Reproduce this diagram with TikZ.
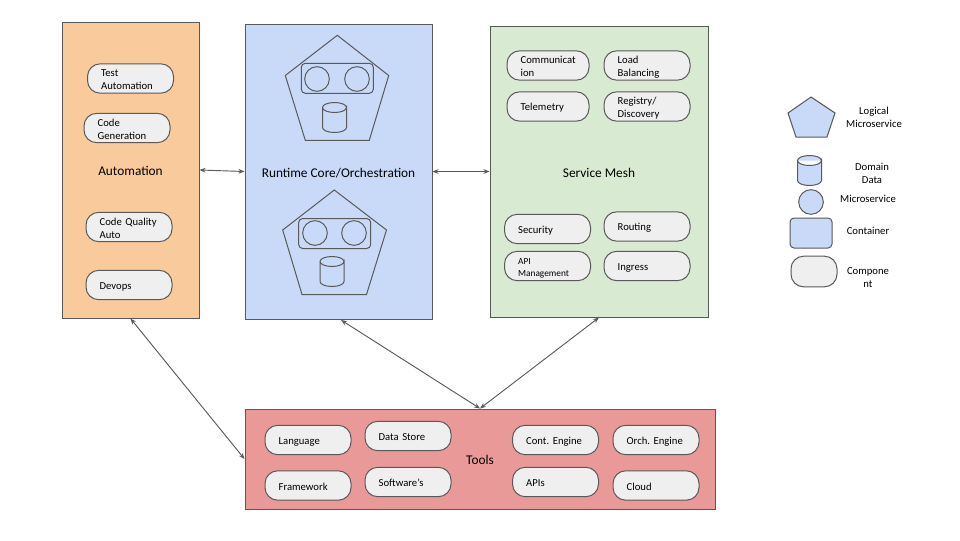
\documentclass[tikz,border=0pt]{standalone}
\usepackage{xcolor}
\usepackage{fontspec}
\setmainfont{Carlito}
\usepackage{tikz}
\usetikzlibrary{arrows.meta}
\definecolor{myline}{RGB}{89,89,89}
\definecolor{myorange}{RGB}{249,203,156}
\definecolor{myblue}{RGB}{201,218,248}
\definecolor{mygreen}{RGB}{217,234,211}
\definecolor{myred}{RGB}{234,153,153}
\definecolor{mypill}{RGB}{239,239,239}
\tikzset{
  sysbox/.style={rectangle, draw=myline, line width=0.75pt, align=center,
    font=\fontsize{10}{12}\selectfont, text=black, text height=11pt, text depth=2.5pt},
  pill/.style={rectangle, draw=myline, fill=mypill, rounded corners=9.5pt,
    line width=0.75pt, minimum width=64.5pt, minimum height=22pt, inner xsep=0pt, inner ysep=0pt,
    text width=44pt, align=left, font=\fontsize{8}{9.75}\selectfont, text=black,
    execute at begin node={\rule{0pt}{7.5pt}}},
  shortpill/.style={pill, minimum width=61.5pt, text width=41pt},
  micro/.style={circle, draw=myline, line width=0.75pt, minimum size=18.5pt, inner sep=0pt},
  podbox/.style={rectangle, draw=myline, line width=0.75pt, rounded corners=3pt,
    minimum width=54pt, minimum height=22.5pt, inner sep=0pt},
  datacyl/.pic={
    \path[draw=myline, line width=0.75pt, pic actions] (-12,-10) -- (-12,10)
      arc[start angle=180, end angle=0, x radius=12, y radius=5] -- (12,-10)
      arc[start angle=0, end angle=360, x radius=12, y radius=5];
  },
  legendtext/.style={align=center, font=\fontsize{8}{9.75}\selectfont, text=black, inner sep=0pt},
  arrow/.style={{Stealth[length=4.5pt,width=3.5pt]}-{Stealth[length=4.5pt,width=3.5pt]}, line width=0.7pt, color=myline}
}

\begin{document}
\begin{tikzpicture}[x=0.75pt, y=-0.75pt]
  \useasboundingbox (0,0) rectangle (960,540);
  % Main blocks
  \node[sysbox, fill=myorange, minimum width=102.75pt, minimum height=222pt] (automation) at (130.5,170) {Automation};
  \node[sysbox, fill=myblue, minimum width=140.25pt, minimum height=221.25pt] (runtime) at (338.5,171.5) {Runtime Core/Orchestration};
  \node[sysbox, fill=mygreen, minimum width=163.5pt, minimum height=218.25pt] (mesh) at (599,171.5) {Service Mesh};
  \node[sysbox, fill=myred, minimum width=352.5pt, minimum height=75pt] (tools) at (480,459) {Tools};
  \coordinate (runtimefoot) at (341,320);

  % Automation components
  \node[pill] (testauto) at (130.5,78.5) {Test\\Automation};
  \node[pill] (codegen) at (127,128) {Code\\Generation};
  \node[pill] (codequal) at (129,227) {Code Quality\\Auto};
  \node[pill] (devops) at (129,285) {Devops};

  % Service mesh components
  \node[shortpill] (comm) at (548,65.5) {Communicat\\ion};
  \node[pill] (loadbal) at (647,65.5) {Load\\Balancing};
  \node[shortpill] (telemetry) at (548,106.5) {Telemetry};
  \node[pill] (registry) at (647,106.5) {Registry/\\Discovery};
  \node[pill] (security) at (547.5,229) {Security};
  \node[pill, font=\fontsize{7}{8.75}\selectfont] (apimgmt) at (547.5,266) {API\\Management};
  \node[pill] (routing) at (647,226.5) {Routing};
  \node[pill] (ingress) at (647,266) {Ingress};

  % Tools components
  \node[pill] (language) at (308,440) {Language};
  \node[pill] (datastore) at (408,436) {Data Store};
  \node[pill] (framework) at (308,485.5) {Framework};
  \node[pill] (software) at (408,482) {Software's};
  \node[pill] (contengine) at (555.5,440) {Cont.\ Engine};
  \node[pill] (orchengine) at (656,440) {Orch.\ Engine};
  \node[pill] (apis) at (555.5,482) {APIs};
  \node[pill] (cloud) at (656,485.5) {Cloud};

  % Upper logical microservice
  \draw[line width=0.75pt, color=myline] (337.3,35.3) -- (388.7,75.5) -- (369.3,140.3) -- (305.3,140.3) -- (285.3,75.5) -- cycle;
  \node[podbox] (podA) at (337.3,78.3) {};
  \node[micro] (svcA) at (317,79) {};
  \node[micro] (svcB) at (357,79) {};
  \pic (dataA) at (334.5,117.5) {datacyl};

  % Lower logical microservice
  \draw[line width=0.75pt, color=myline] (334.3,190) -- (386.5,230) -- (366.5,294.5) -- (302,294.5) -- (282.7,230) -- cycle;
  \node[podbox] (podB) at (334.7,233.5) {};
  \node[micro] (svcC) at (315,233) {};
  \node[micro] (svcD) at (354,233) {};
  \pic (dataB) at (332,271.5) {datacyl};

  % Legend
  \draw[line width=0.75pt, color=myline, fill=myblue] (811,97) -- (835,113) -- (827,137) -- (796,137) -- (788,113) -- cycle;
  \pic[fill=myblue] (legdata) at (809.5,170.5) {datacyl};
  \node[micro, fill=myblue] (legsvc) at (811,202) {};
  \node[podbox, fill=myblue, minimum width=31.5pt] (legpod) at (811,233) {};
  \node[pill, minimum width=34.5pt, text width=10pt, minimum height=23pt] (legcomp) at (814,271.5) {};
  \node[legendtext] (leglogical) at (874,117.5) {Logical\\Microservice};
  \node[legendtext] (legdomain) at (872,173.5) {Domain\\Data};
  \node[legendtext] (legmicro) at (868,199) {Microservice};
  \node[legendtext] (legcontainer) at (868,231) {Container};
  \node[legendtext] (legcomponent) at (868,277.5) {Compone\\nt};

  % Connectors
  \draw[arrow] (automation.east) -- (runtime.west);
  \draw[arrow] (runtime.east) -- (mesh.west);
  \draw[arrow] (automation.south) -- (tools.west);
  \draw[arrow] (runtimefoot) -- (tools.north);
  \draw[arrow] (mesh.south) -- (tools.north);
\end{tikzpicture}
\end{document}
